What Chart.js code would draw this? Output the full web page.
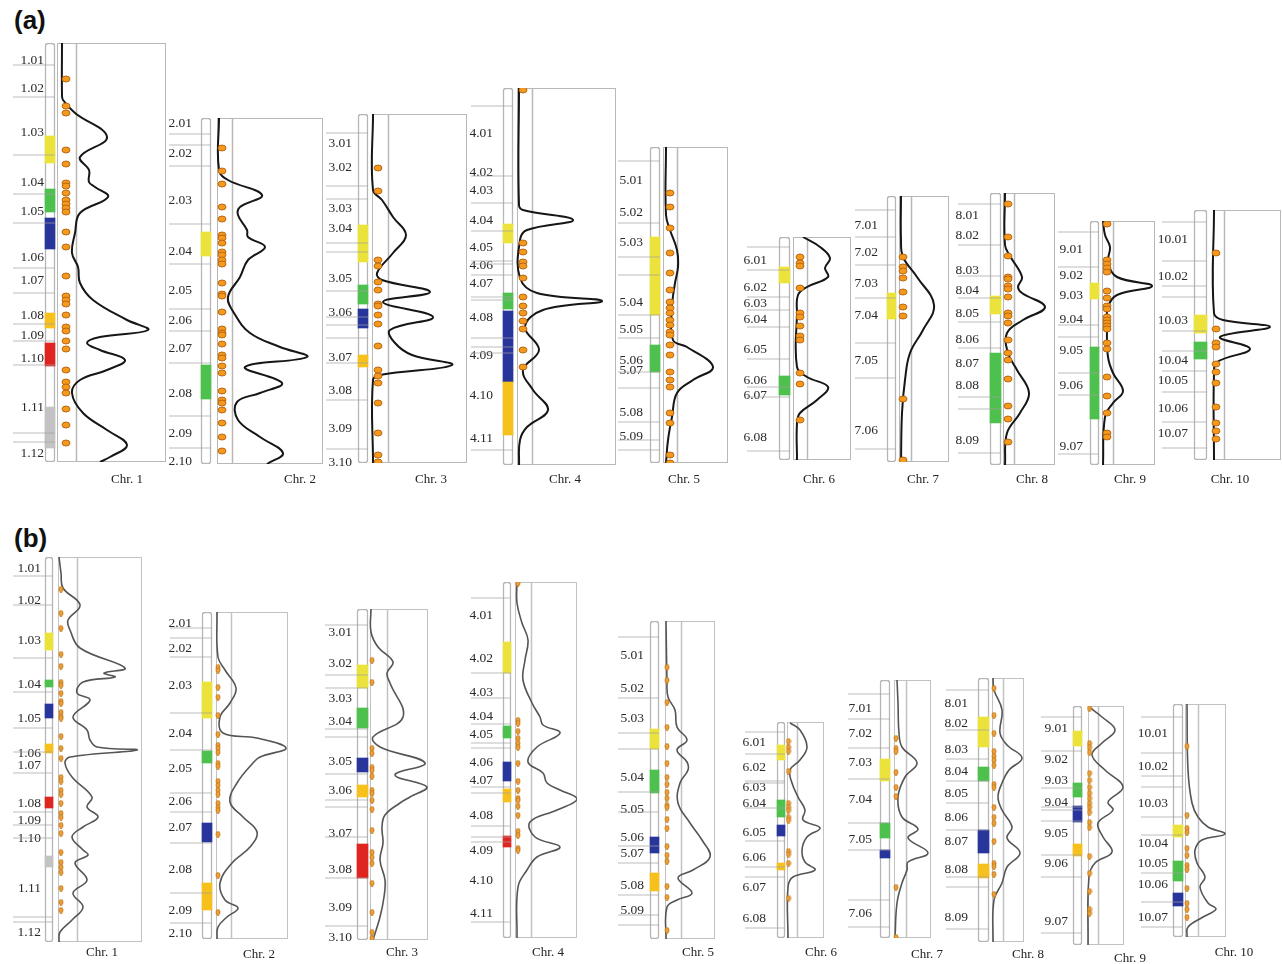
<!DOCTYPE html>
<html>
<head>
<meta charset="utf-8">
<title>Maize chromosome bins</title>
<script src="https://cdn.jsdelivr.net/npm/chart.js@4.4.1/dist/chart.umd.min.js"></script>
<style>
  html, body { margin: 0; padding: 0; background: #fff; overflow: hidden; }
  body { position: relative; width: 1282px; height: 964px; }
  .tag { position: absolute; font: bold 26px "Liberation Sans", Arial, sans-serif; line-height: 1; color: #111; }
  canvas { position: absolute; }
</style>
</head>
<body>
<div class="tag" style="left:14px;top:7px">(a)</div>
<div class="tag" style="left:14px;top:525px">(b)</div>
<script>
var chrNames = ['Chr. 1', 'Chr. 2', 'Chr. 3', 'Chr. 4', 'Chr. 5', 'Chr. 6', 'Chr. 7', 'Chr. 8', 'Chr. 9', 'Chr. 10'];

// ---------- panel (a) ----------
// chromosome extent (map units)
var spanA = [[43,462],[118,464],[114,463],[88,465],[147,463],[237,460],[196,462],[193,465],[221,465],[210,460]];

// bin labels and their map position
var binsA = [
  [['1.01',60],['1.02',88],['1.03',132],['1.04',182],['1.05',211],['1.06',257],['1.07',280],['1.08',315],['1.09',335],['1.10',358],['1.11',407],['1.12',453]],
  [['2.01',123],['2.02',153],['2.03',200],['2.04',251],['2.05',290],['2.06',320],['2.07',348],['2.08',393],['2.09',433],['2.10',461]],
  [['3.01',143],['3.02',167],['3.03',208],['3.04',228],['3.05',278],['3.06',312],['3.07',357],['3.08',390],['3.09',428],['3.10',462]],
  [['4.01',133],['4.02',172],['4.03',190],['4.04',220],['4.05',247],['4.06',265],['4.07',283],['4.08',317],['4.09',355],['4.10',395],['4.11',438]],
  [['5.01',180],['5.02',212],['5.03',242],['5.04',302],['5.05',329],['5.06',360],['5.07',370],['5.08',412],['5.09',436]],
  [['6.01',260],['6.02',287],['6.03',303],['6.04',319],['6.05',349],['6.06',380],['6.07',395],['6.08',437]],
  [['7.01',225],['7.02',252],['7.03',283],['7.04',315],['7.05',360],['7.06',430]],
  [['8.01',215],['8.02',235],['8.03',270],['8.04',290],['8.05',313],['8.06',339],['8.07',363],['8.08',385],['8.09',440]],
  [['9.01',249],['9.02',275],['9.03',295],['9.04',319],['9.05',350],['9.06',385],['9.07',446]],
  [['10.01',239],['10.02',276],['10.03',320],['10.04',360],['10.05',380],['10.06',408],['10.07',433]]
];

// coloured regions on the ideogram: [start, end, class]
var blocksA = [
  [[136,163,'Y'],[189,212,'G'],[218,249,'B'],[313,328,'O'],[343,366,'R'],[407,448,'K']],
  [[232,256,'Y'],[365,399,'G']],
  [[225,262,'Y'],[285,304,'G'],[309,328,'B'],[355,367,'O']],
  [[224,243,'Y'],[293,309,'G'],[311,382,'B'],[382,435,'O']],
  [[237,315,'Y'],[345,372,'G']],
  [[267,283,'Y'],[376,395,'G']],
  [[293,319,'Y']],
  [[296,314,'Y'],[353,423,'G']],
  [[283,299,'Y'],[347,419,'G']],
  [[315,333,'Y'],[342,359,'G']]
];

// anchor marker positions
var markersA = [
  [65,97,155,194,223,268,293,324,341,365,433,442],
  [134,145,166,224,264,309,331,363,416,448],
  [133,186,199,243,252,291,317,325,338,363,400,449],
  [106,176,203,231,261,264,275,297,300,338,347,353,450],
  [161,223,257,275,315,338,372,388,422,440,450],
  [247,270,297,310,327,359,387,397,451],
  [210,237,265,298,343,378,449],
  [204,245,276,298,322,348,397,409,453],
  [232,267,325,337,373,395,454],
  [222,261,286,297,331,351,371,392,422,448]
];

// QTL / SNP hits
var dotsA = [
  [79,106,113,150,164,183,186,193,200,204,208,212,232,247,276,296,300,304,315,327,331,341,349,370,382,387,393,409,425,443],
  [148,171,184,207,219,235,238,243,252,255,260,264,283,294,296,312,329,333,335,344,355,358,366,373,391,400,403,410,423,437,451],
  [168,191,260,266,282,290,304,306,315,324,346,370,376,383,403,433,455,462],
  [90,243,252,262,266,278,297,306,313,321,329,350,367],
  [193,207,228,253,273,290,302,308,313,320,325,332,335,345,355,372,380,387,413,423,455,463],
  [257,263,266,288,313,317,326,336,340,373,384,420],
  [257,267,271,278,292,307,316,399,460],
  [204,237,256,277,279,286,289,297,313,316,323,340,353,360,379,406,419,442],
  [224,260,264,268,272,291,298,306,309,317,320,323,326,329,343,349,377,396,413,433,437],
  [253,329,343,347,364,372,383,407,423,431,439]
];

// density profile: [position, density]
var curveA = [
  [[43,5],[95,5],[100,6],[113,18],[137,50],[157,23],[170,32],[182,32],[187,38],[197,51],[213,23],[233,18],[253,15],[267,21],[283,23],[300,36],[320,70],[330,91],[337,43],[343,30],[350,43],[360,68],[370,50],[380,23],[393,15],[413,26],[430,50],[445,70],[457,53],[462,43]],
  [[118,2],[170,2],[180,11],[195,45],[207,23],[215,21],[230,30],[237,31],[247,48],[260,31],[277,23],[297,11],[313,17],[333,33],[347,63],[357,90],[367,28],[383,65],[393,43],[402,20],[420,21],[437,43],[453,66],[464,50]],
  [[114,1],[190,1],[200,10],[217,21],[235,34],[253,21],[273,5],[280,10],[292,58],[302,11],[317,61],[330,18],[343,23],[355,40],[365,80],[375,8],[380,1],[463,1]],
  [[88,2],[205,2],[210,6],[220,56],[230,10],[240,3],[278,3],[293,20],[301,85],[310,26],[327,8],[350,22],[370,6],[390,16],[410,31],[427,10],[440,3],[465,2]],
  [[147,3],[215,3],[230,7],[250,14],[267,15],[283,12],[307,9],[340,10],[347,24],[367,50],[380,30],[393,14],[417,9],[440,5],[463,3]],
  [[237,10],[247,27],[258,37],[268,32],[277,35],[287,14],[295,5],[313,4],[367,4],[377,14],[387,35],[400,24],[413,7],[423,4],[460,4]],
  [[196,2],[240,2],[257,4],[277,18],[305,35],[330,24],[353,11],[380,6],[413,3],[462,2]],
  [[193,2],[245,2],[256,7],[277,19],[287,15],[293,19],[307,42],[320,20],[333,4],[353,5],[370,14],[393,26],[413,17],[433,4],[465,2]],
  [[221,1],[235,3],[247,8],[263,6],[277,15],[286,50],[295,15],[307,6],[327,5],[357,6],[373,11],[391,21],[403,11],[417,3],[465,1]],
  [[210,1],[313,1],[320,10],[327,57],[337,7],[349,37],[362,4],[373,1],[460,1]]
];

// ---------- panel (b) ----------
var spanB = [[557,942],[612,939],[609,940],[582,938],[621,939],[722,938],[680,938],[678,942],[706,945],[704,937]];

var binsB = [
  [['1.01',568],['1.02',600],['1.03',640],['1.04',684],['1.05',718],['1.06',753],['1.07',765],['1.08',803],['1.09',820],['1.10',838],['1.11',888],['1.12',932]],
  [['2.01',623],['2.02',648],['2.03',685],['2.04',733],['2.05',768],['2.06',801],['2.07',827],['2.08',869],['2.09',910],['2.10',933]],
  [['3.01',632],['3.02',663],['3.03',698],['3.04',721],['3.05',761],['3.06',790],['3.07',833],['3.08',869],['3.09',907],['3.10',937]],
  [['4.01',615],['4.02',658],['4.03',692],['4.04',716],['4.05',734],['4.06',762],['4.07',780],['4.08',815],['4.09',850],['4.10',880],['4.11',913]],
  [['5.01',655],['5.02',688],['5.03',718],['5.04',777],['5.05',809],['5.06',837],['5.07',853],['5.08',885],['5.09',910]],
  [['6.01',742],['6.02',767],['6.03',787],['6.04',803],['6.05',832],['6.06',857],['6.07',887],['6.08',918]],
  [['7.01',708],['7.02',733],['7.03',762],['7.04',799],['7.05',839],['7.06',913]],
  [['8.01',703],['8.02',723],['8.03',749],['8.04',771],['8.05',793],['8.06',817],['8.07',841],['8.08',869],['8.09',917]],
  [['9.01',728],['9.02',759],['9.03',780],['9.04',802],['9.05',833],['9.06',863],['9.07',921]],
  [['10.01',733],['10.02',766],['10.03',803],['10.04',843],['10.05',863],['10.06',884],['10.07',917]]
];

var blocksB = [
  [[633,650,'Y'],[680,687,'G'],[704,718,'B'],[744,753,'O'],[797,808,'R'],[856,867,'K']],
  [[682,718,'Y'],[751,763,'G'],[823,842,'B'],[883,910,'O']],
  [[665,688,'Y'],[708,728,'G'],[758,772,'B'],[785,797,'O'],[844,878,'R']],
  [[642,673,'Y'],[726,738,'G'],[762,781,'B'],[789,802,'O'],[836,847,'R']],
  [[729,749,'Y'],[770,793,'G'],[837,853,'B'],[873,891,'O']],
  [[745,760,'Y'],[800,817,'G'],[825,836,'B'],[863,870,'O']],
  [[759,781,'Y'],[823,838,'G'],[850,858,'B']],
  [[717,747,'Y'],[767,781,'G'],[830,853,'B'],[864,878,'O']],
  [[731,746,'Y'],[783,797,'G'],[806,822,'B'],[844,856,'O']],
  [[825,837,'Y'],[861,881,'G'],[893,906,'B']]
];

var markersB = [
  [576,605,658,692,728,752,773,812,825,838,917,922],
  [628,638,657,713,750,793,812,843,893,923],
  [625,675,688,729,737,774,800,807,837,878,926],
  [598,673,698,724,743,748,787,793,826,837,842,922],
  [637,698,733,749,792,812,846,863,895,915,925],
  [732,754,781,783,808,841,867,877,928],
  [694,719,748,779,823,850,900,927],
  [690,730,759,781,803,830,877,887,929],
  [717,751,788,807,810,821,855,877,933],
  [717,753,776,787,817,835,873,902,927]
];

var dotsB = [
  [589,613,628,654,666,682,685,693,701,703,712,716,718,736,748,758,777,781,790,794,803,813,817,825,833,852,862,867,872,888,902,910],
  [667,670,687,697,715,734,745,748,752,763,766,781,785,790,794,803,807,810,834,875,912],
  [660,682,748,753,767,770,776,790,793,800,809,830,852,857,863,883,912,932,938],
  [583,720,723,731,738,743,747,763,781,790,798,800,806,815,831,835,848,850],
  [667,680,702,727,746,763,777,784,792,798,805,807,819,828,846,855,861,886,897,930],
  [741,747,751,771,803,807,810,817,820,851,854,863,898],
  [738,748,751,772,787,796,887,937],
  [688,715,733,751,756,760,765,784,787,807,817,823,841,863,866,874,894],
  [708,743,747,752,773,780,787,793,798,803,807,812,822,827,856,873,891,909,913],
  [746,815,828,832,848,855,865,869,888,903,909,917]
];

var curveB = [
  [[557,1],[573,3],[588,5],[605,22],[620,10],[630,12],[648,22],[668,67],[673,46],[677,57],[682,25],[693,19],[700,32],[717,15],[730,29],[740,32],[747,39],[750,79],[757,12],[763,7],[777,14],[797,34],[807,29],[817,40],[827,25],[837,14],[850,25],[855,30],[863,17],[880,29],[893,15],[907,25],[920,14],[932,2],[942,1]],
  [[612,1],[657,2],[670,9],[688,20],[703,14],[717,4],[733,7],[738,41],[748,70],[757,44],[763,37],[783,21],[802,14],[817,27],[832,41],[847,34],[863,16],[883,4],[900,9],[908,22],[917,11],[927,2],[939,1]],
  [[609,1],[632,1],[647,8],[662,23],[673,17],[683,20],[717,33],[737,3],[747,10],[763,55],[775,25],[787,57],[797,40],[803,30],[815,15],[827,12],[843,13],[860,10],[880,15],[897,14],[917,10],[940,3]],
  [[582,2],[603,2],[623,7],[640,13],[660,10],[680,8],[703,17],[717,25],[725,28],[733,45],[747,22],[762,13],[773,28],[783,32],[790,45],[799,62],[810,42],[822,15],[837,20],[847,45],[857,22],[870,12],[887,3],[938,2]],
  [[621,1],[680,2],[697,3],[710,10],[727,12],[740,22],[750,12],[762,22],[770,23],[783,15],[803,13],[823,25],[840,37],[857,45],[870,28],[878,13],[893,27],[900,12],[907,2],[939,1]],
  [[723,3],[730,13],[747,20],[760,13],[770,3],[783,5],[797,11],[810,18],[820,16],[828,33],[837,20],[850,15],[862,18],[870,28],[877,6],[887,1],[938,1]],
  [[680,3],[703,4],[733,5],[747,8],[763,23],[777,11],[797,4],[817,8],[829,24],[838,14],[853,34],[862,14],[870,13],[883,8],[903,3],[938,1]],
  [[678,1],[690,2],[710,10],[733,8],[745,15],[758,30],[770,17],[783,10],[797,6],[810,10],[827,20],[838,15],[853,28],[867,15],[883,10],[900,2],[942,1]],
  [[707,1],[717,14],[730,27],[743,14],[755,4],[770,17],[787,35],[802,20],[810,25],[823,10],[837,15],[852,24],[863,7],[877,1],[945,0]],
  [[704,2],[770,3],[803,7],[817,13],[827,23],[834,40],[840,17],[850,10],[863,12],[877,20],[887,15],[903,23],[909,31],[917,18],[927,3],[937,2]]
];

// ---------- page layout (pixels) ----------
// [ideogram left, ideogram right, box left, box right, inner line, dot column, label x, label y, label gap]
var layoutA = [
  [45,55,57,166,19,9,70,480,1],
  [201,211,217,323,15,5,83,480,9],
  [358,368,372,467,16,6,59,480,6],
  [503,513,517,616,15,6,48,480,10],
  [650,660,663,728,14,7,21,480,7],
  [779,790,793,851,14,7,26,480,12],
  [887,896,899,949,12,4,24,480,9],
  [990,1001,1003,1055,11,5,29,480,11],
  [1090,1099,1102,1155,11,5,28,480,7],
  [1194,1207,1213,1281,11,3,17,480,6]
];
var layoutB = [
  [45,53,58,142,19,3,44,953,4],
  [202,212,216,288,15,2,43,955,10],
  [357,368,370,428,17,2,32,953,5],
  [503,511,515,577,16,3,33,953,10],
  [650,659,665,715,16,2,33,953,6],
  [777,785,787,824,10,1.5,34,953,11],
  [880,890,894,931,12,2,33,955,8],
  [978,989,992,1024,11,2,36,955,10],
  [1073,1082,1088,1124,10,1.5,42,959,5],
  [1173,1183,1185,1226,13,2,49,953,5]
];

var blockColors = { Y: '#ebe23c', G: '#4dc04d', B: '#28359b', O: '#f6c11c', R: '#df2520', K: '#c3c3c3' };
var serif = '"Liberation Serif", "Times New Roman", serif';
var AXW = 48, PADT = 14, PADR = 30;

// small elliptical marker used as point style
function ellipseMark(w, h, fill, stroke) {
  var c = document.createElement('canvas');
  c.width = w + 2; c.height = h + 2;
  var g = c.getContext('2d');
  g.beginPath();
  g.ellipse((w + 2) / 2, (h + 2) / 2, w / 2, h / 2, 0, 0, Math.PI * 2);
  g.fillStyle = fill; g.fill();
  g.lineWidth = 0.9; g.strokeStyle = stroke; g.stroke();
  return c;
}

// outline of the density box and its inner guide line
var framePlugin = {
  id: 'frame',
  beforeDatasetsDraw: function (chart, args, o) {
    var ctx = chart.ctx, x = chart.scales.x, y = chart.scales.y;
    var l = Math.round(x.getPixelForValue(0)) + 0.5;
    var r = Math.round(x.getPixelForValue(o.w)) - 0.5;
    var t = Math.round(y.getPixelForValue(o.top)) + 0.5;
    var b = Math.round(y.getPixelForValue(o.bottom)) - 0.5;
    var g = Math.round(x.getPixelForValue(o.grey)) + 0.5;
    ctx.save();
    ctx.strokeStyle = o.color;
    ctx.lineWidth = 1;
    ctx.strokeRect(l, t, r - l, b - t);
    ctx.beginPath();
    ctx.moveTo(g, t);
    ctx.lineTo(g, b);
    ctx.lineWidth = 1.5;
    ctx.stroke();
    ctx.restore();
  }
};

function makeChr(P, S, i) {
  var L = P.layout[i];
  var ideoL = L[0], ideoR = L[1], boxL = L[2], boxR = L[3];
  var top = P.span[i][0], bottom = P.span[i][1];
  var bins = P.bins[i];
  var xh = L[7] - bottom + 12;
  var w = AXW + (boxR - ideoL + 1) + PADR;
  var h = PADT + (bottom - top) + xh;

  var cv = document.createElement('canvas');
  cv.width = w; cv.height = h;
  cv.style.left = (ideoL - 1 - AXW) + 'px';
  cv.style.top = (top - PADT) + 'px';
  cv.style.width = w + 'px';
  cv.style.height = h + 'px';
  document.body.appendChild(cv);

  var ideoC = (ideoL + ideoR) / 2 - boxL;
  var blocks = P.blocks[i];
  var barData = [{ x: ideoC, y: [top, bottom] }].concat(blocks.map(function (b) { return { x: ideoC, y: [b[0], b[1]] }; }));

  var segs = [];
  P.markers[i].forEach(function (m) {
    segs.push({ x: ideoL - 32 - boxL, y: m }, { x: ideoR - boxL, y: m }, { x: ideoR - boxL, y: null });
  });

  new Chart(cv, {
    type: 'scatter',
    data: {
      datasets: [
        {
          type: 'bar',
          data: barData,
          backgroundColor: ['#ffffff'].concat(blocks.map(function (b) { return blockColors[b[2]]; })),
          borderColor: ['#b5b5b5'].concat(blocks.map(function () { return 'rgba(0,0,0,0)'; })),
          borderWidth: [1.5].concat(blocks.map(function () { return 0; })),
          borderRadius: [3].concat(blocks.map(function () { return 0; })),
          borderSkipped: false,
          barThickness: ideoR - ideoL,
          grouped: false,
          order: 4
        },
        {
          data: segs,
          showLine: true,
          spanGaps: false,
          borderColor: '#a0a0a0',
          borderWidth: 0.7,
          pointRadius: 0,
          clip: false,
          order: 3
        },
        {
          data: P.curve[i].map(function (p) { return { x: p[1], y: p[0] }; }),
          showLine: true,
          borderColor: S.curveColor,
          borderWidth: S.curveWidth,
          tension: 0.4,
          pointRadius: 0,
          order: 2
        },
        {
          data: P.dots[i].map(function (v) { return { x: L[5], y: v }; }),
          pointStyle: S.dotMark,
          pointRadius: 4,
          order: 1
        }
      ]
    },
    options: {
      responsive: false,
      devicePixelRatio: 1,
      animation: false,
      events: [],
      layout: { padding: { top: PADT, right: PADR, left: 0, bottom: 0 } },
      plugins: {
        legend: { display: false },
        tooltip: { enabled: false },
        frame: { w: boxR - boxL, grey: L[4], top: top, bottom: bottom, color: S.frame }
      },
      scales: {
        x: {
          type: 'linear',
          offset: false,
          min: ideoL - 1 - boxL,
          max: boxR - boxL,
          afterBuildTicks: function (s) { s.ticks = [{ value: L[6] }]; },
          afterFit: function (s) { s.height = xh; s.paddingLeft = 0; s.paddingRight = 0; },
          ticks: {
            autoSkip: false, maxRotation: 0,
            padding: L[7] - bottom - 8,
            font: { family: serif, size: 13 },
            color: '#222',
            callback: function () { return chrNames[i]; }
          },
          grid: { display: false, drawTicks: false, offset: false },
          border: { display: false }
        },
        y: {
          type: 'linear',
          reverse: true,
          beginAtZero: false,
          min: top,
          max: bottom,
          afterBuildTicks: function (s) { s.ticks = bins.map(function (b) { return { value: b[1] }; }); },
          afterFit: function (s) { s.width = AXW; s.paddingTop = 0; s.paddingBottom = 0; },
          ticks: {
            autoSkip: false,
            padding: L[8] - 1,
            font: { family: serif, size: 13.5 },
            color: '#2a2a2a',
            callback: function (v, idx) { return bins[idx][0]; }
          },
          grid: { display: false, drawTicks: false },
          border: { display: false }
        }
      }
    },
    plugins: [framePlugin]
  });
}

var panelA = { span: spanA, bins: binsA, blocks: blocksA, markers: markersA, dots: dotsA, curve: curveA, layout: layoutA };
var panelB = { span: spanB, bins: binsB, blocks: blocksB, markers: markersB, dots: dotsB, curve: curveB, layout: layoutB };
var styleA = { curveColor: '#161616', curveWidth: 2, dotMark: ellipseMark(8, 6, '#f39a1e', '#b4600e'), frame: '#b8b8b8' };
var styleB = { curveColor: '#555555', curveWidth: 1.6, dotMark: ellipseMark(4, 5.5, '#eea13a', '#c27818'), frame: '#c2c2c2' };

for (var i = 0; i < 10; i++) {
  makeChr(panelA, styleA, i);
  makeChr(panelB, styleB, i);
}
</script>
</body>
</html>
